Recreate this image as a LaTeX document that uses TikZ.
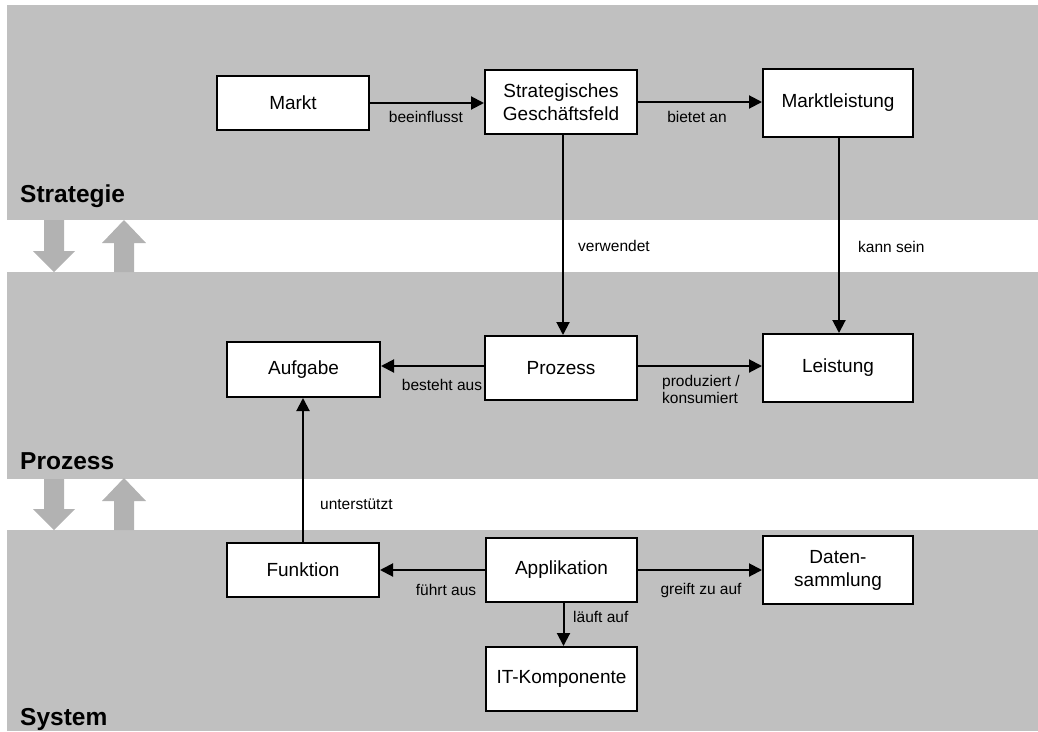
\documentclass[tikz,border=0pt]{standalone}
\usepackage{fontspec}
\setmainfont{Liberation Sans}
\usetikzlibrary{arrows.meta}
\definecolor{band}{RGB}{192,192,192}
\definecolor{garrow}{RGB}{178,178,178}
\tikzset{
  box/.style={draw=black, line width=2pt, fill=white, inner sep=0pt, align=center,
    font=\fontsize{19}{23}\selectfont},
  lbl/.style={inner sep=0pt, font=\fontsize{15.5}{17}\selectfont, align=left},
  layer/.style={inner sep=0pt, anchor=base west, font=\fontsize{24.5}{28}\selectfont\bfseries},
  arr/.style={line width=2pt, -{Triangle[length=13pt,width=13pt]}},
  con/.style={line width=2pt},
}
\begin{document}
\begin{tikzpicture}[x=1pt,y=-1pt]
\useasboundingbox (0,0) rectangle (1038,731);
% bands
\fill[band] (7,5) rectangle (1038,220);
\fill[band] (7,272) rectangle (1038,479);
\fill[band] (7,530) rectangle (1038,731);
% big gray arrows, gap 1
\fill[garrow] (44,220) -- (64,220) -- (64,251) -- (75,251) -- (54,272) -- (33,251) -- (44,251) -- cycle;
\fill[garrow] (114,272) -- (134,272) -- (134,243) -- (146,243) -- (124,220) -- (102,243) -- (114,243) -- cycle;
% gap 2
\fill[garrow] (44,479) -- (64,479) -- (64,509) -- (75,509) -- (54,530) -- (33,509) -- (44,509) -- cycle;
\fill[garrow] (114,530) -- (134,530) -- (134,501) -- (146,501) -- (124,478) -- (102,501) -- (114,501) -- cycle;
% layer labels
\node[layer] (lstrat) at (20,202) {Strategie};
\node[layer] (lproz) at (20,469) {Prozess};
\node[layer] (lsys) at (20,725) {System};
% boxes
\node[box, minimum width=152pt, minimum height=54pt] (markt) at (293,103) {Markt};
\node[box, minimum width=152pt, minimum height=64pt] (sgf) at (561,102) {Strategisches\\Geschäftsfeld};
\node[box, minimum width=150pt, minimum height=68pt] (mleist) at (838,102.5) {Marktleistung};
\node[box, minimum width=153pt, minimum height=55pt] (aufgabe) at (303.5,369.5) {Aufgabe};
\node[box, minimum width=152pt, minimum height=64pt] (prozess) at (561,368) {Prozess};
\node[box, minimum width=150pt, minimum height=68pt] (leistung) at (838,368) {Leistung};
\node[box, minimum width=152pt, minimum height=54pt] (funktion) at (303,570) {Funktion};
\node[box, minimum width=151pt, minimum height=64pt] (appl) at (561.5,570) {Applikation};
\node[box, minimum width=150pt, minimum height=68pt] (daten) at (838,570) {Daten-\\sammlung};
\node[box, minimum width=151pt, minimum height=64pt] (itk) at (561.5,679) {IT-Komponente};
% connectors
\draw[arr] (markt.east) -- (markt.east -| sgf.west);
\draw[arr] (sgf.east) -- (sgf.east -| mleist.west);
\draw[arr] ([xshift=2pt]sgf.south) -- ([xshift=2pt]prozess.north);
\draw[arr] ([xshift=1pt]mleist.south) -- ([xshift=1pt]leistung.north);
\draw[arr] ([yshift=2pt]prozess.west) -- ([yshift=2pt]prozess.west -| aufgabe.east);
\draw[arr] ([yshift=2pt]prozess.east) -- ([yshift=2pt]prozess.east -| leistung.west);
\draw[arr] (funktion.north) -- (funktion.north |- aufgabe.south);
\draw[arr] (appl.west) -- (appl.west -| funktion.east);
\draw[arr] (appl.east) -- (appl.east -| daten.west);
\draw[arr] ([xshift=2pt]appl.south) -- ([xshift=2pt]itk.north);
% labels
\node[lbl] (l1) at (426,117) {beeinflusst};
\node[lbl] (l2) at (697,117) {bietet an};
\node[lbl, anchor=west] (l3) at (578,246) {verwendet};
\node[lbl, anchor=west] (l4) at (858,247) {kann sein};
\node[lbl] (l5) at (442,385) {besteht aus};
\node[lbl, anchor=west] (l6) at (662,389) {produziert /\\konsumiert};
\node[lbl, anchor=west] (l7) at (320,504) {unterstützt};
\node[lbl] (l8) at (446,590) {führt aus};
\node[lbl] (l9) at (701,590) {greift zu auf};
\node[lbl, anchor=west] (l10) at (573,617) {läuft auf};
\end{tikzpicture}
\end{document}
